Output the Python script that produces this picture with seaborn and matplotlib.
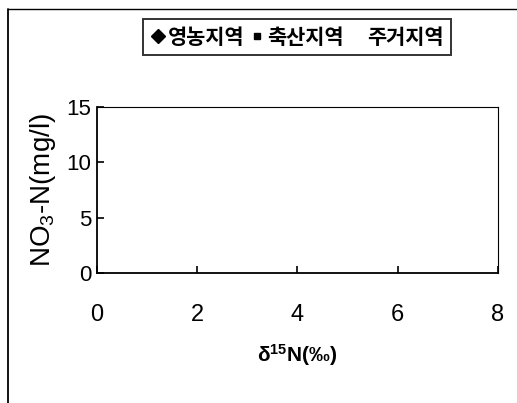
import matplotlib
matplotlib.use("Agg")
import matplotlib.pyplot as plt
import seaborn as sns
from matplotlib.lines import Line2D

# Data (the reference chart contains no plotted points)
series_names = ["영농지역", "축산지역", "주거지역"]
farm_x, farm_y = [], []
livestock_x, livestock_y = [], []
resident_x, resident_y = [], []
x_ticks = [0, 2, 4, 6, 8]
y_ticks = [0, 5, 10, 15]

sns.set_theme(style="white")
plt.rcParams['font.family'] = ['Liberation Sans', 'Noto Sans CJK KR', 'DejaVu Sans']
plt.rcParams['text.color'] = 'black'
plt.rcParams['axes.labelcolor'] = 'black'
plt.rcParams['xtick.color'] = 'black'
plt.rcParams['ytick.color'] = 'black'

fig = plt.figure(figsize=(5.17, 4.03), dpi=100)
ax = fig.add_axes([0.1876, 0.3226, 0.963 - 0.1876, 0.7345 - 0.3226])

ax.plot(farm_x, farm_y, linestyle='none', marker='D', color='black', markersize=7, label=series_names[0])
ax.plot(livestock_x, livestock_y, linestyle='none', marker='s', color='black', markersize=5, label=series_names[1])
ax.plot(resident_x, resident_y, linestyle='none', marker='^', color='white', markersize=6, label=series_names[2])

ax.set_xlim(0, 8)
ax.set_ylim(0, 15)
ax.set_xticks(x_ticks)
ax.set_yticks(y_ticks)
ax.tick_params(axis='both', direction='in', length=5, width=1.2, color='black',
               labelcolor='black', bottom=True, left=True, top=False, right=False)
ax.tick_params(axis='x', labelsize=17, pad=22)
ax.tick_params(axis='y', labelsize=16, pad=4)
for s in ax.spines.values():
    s.set_color('black')
    s.set_linewidth(1.3)
ax.spines['top'].set_linewidth(0.8)
ax.spines['right'].set_linewidth(0.8)

ax.set_xlabel(r"$\mathregular{\delta^{15}N(‰)}$", fontsize=15, labelpad=12,
              color='black', fontweight='bold')
ax.set_ylabel(r"$\mathregular{NO_3}$-N(mg/l)", fontsize=20, labelpad=6, color='black')

leg = fig.legend(loc='center', bbox_to_anchor=(0.574, 0.908), ncol=3,
                 frameon=True, fancybox=False, edgecolor='black',
                 prop={'family': ['Noto Sans CJK KR', 'DejaVu Sans'], 'size': 15,
                       'weight': 'bold'},
                 handletextpad=0.15, columnspacing=0.25, handlelength=0.7,
                 borderpad=0.35, borderaxespad=0)
leg.get_frame().set_linewidth(1.4)

# figure border lines (top and left)
fig.add_artist(Line2D([0.0155, 1.0], [0.978, 0.978], color='black', lw=1.0,
                      transform=fig.transFigure))
fig.add_artist(Line2D([0.0155, 0.0155], [0.0, 0.978], color='black', lw=1.3,
                      transform=fig.transFigure))

fig.savefig("out.png", dpi=100)
